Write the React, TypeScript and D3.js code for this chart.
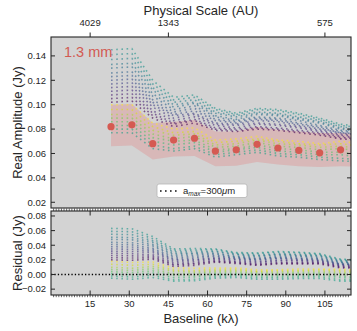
import React from 'react';
import * as d3 from 'd3';

// observed binned visibilities (kλ, Jy)
const baselines = [23, 31, 39, 47, 55, 63, 71, 79, 87, 95, 103, 111, 119];
const amplitude = [0.082, 0.0835, 0.068, 0.071, 0.0725, 0.062, 0.063, 0.0675, 0.0645, 0.0625, 0.0605, 0.063, 0.062];
const ampError = [0.002, 0.002, 0.002, 0.002, 0.002, 0.002, 0.002, 0.002, 0.002, 0.002, 0.002, 0.002, 0.002];
const bandHigh = [0.1, 0.1005, 0.085, 0.086, 0.0875, 0.078, 0.078, 0.082, 0.0795, 0.078, 0.0767, 0.0767, 0.076];
const bandLow = [0.066, 0.0666, 0.055, 0.0576, 0.058, 0.0495, 0.05, 0.053, 0.051, 0.0495, 0.049, 0.0495, 0.049];

// model curves, a_max = 300 um (upper family: purple -> teal, lower family: green -> yellow)
const modelCurves = [
  [0.102, 0.103, 0.089, 0.082, 0.085, 0.079, 0.078, 0.080, 0.079, 0.077, 0.075, 0.072, 0.071],
  [0.105, 0.106, 0.091, 0.084, 0.087, 0.080, 0.079, 0.081, 0.080, 0.078, 0.076, 0.073, 0.072],
  [0.108, 0.109, 0.093, 0.085, 0.088, 0.081, 0.080, 0.082, 0.081, 0.079, 0.077, 0.074, 0.073],
  [0.111, 0.112, 0.095, 0.087, 0.090, 0.083, 0.081, 0.084, 0.083, 0.081, 0.078, 0.075, 0.074],
  [0.114, 0.115, 0.098, 0.089, 0.092, 0.084, 0.083, 0.085, 0.084, 0.082, 0.079, 0.076, 0.075],
  [0.117, 0.118, 0.100, 0.091, 0.093, 0.085, 0.084, 0.087, 0.086, 0.083, 0.080, 0.077, 0.075],
  [0.120, 0.121, 0.102, 0.092, 0.095, 0.087, 0.085, 0.088, 0.087, 0.084, 0.081, 0.077, 0.076],
  [0.123, 0.124, 0.104, 0.094, 0.097, 0.088, 0.086, 0.089, 0.088, 0.085, 0.082, 0.078, 0.077],
  [0.126, 0.127, 0.107, 0.096, 0.099, 0.090, 0.087, 0.090, 0.089, 0.087, 0.083, 0.079, 0.078],
  [0.130, 0.131, 0.109, 0.098, 0.101, 0.091, 0.088, 0.092, 0.091, 0.088, 0.085, 0.080, 0.078],
  [0.133, 0.134, 0.112, 0.100, 0.102, 0.093, 0.090, 0.093, 0.092, 0.089, 0.086, 0.081, 0.079],
  [0.137, 0.138, 0.114, 0.102, 0.104, 0.094, 0.091, 0.094, 0.093, 0.090, 0.087, 0.082, 0.080],
  [0.141, 0.142, 0.117, 0.104, 0.106, 0.096, 0.092, 0.096, 0.095, 0.092, 0.088, 0.083, 0.081],
  [0.145, 0.146, 0.120, 0.106, 0.108, 0.097, 0.093, 0.097, 0.096, 0.093, 0.089, 0.084, 0.082],
  [0.077, 0.077, 0.064, 0.062, 0.064, 0.057, 0.059, 0.061, 0.058, 0.057, 0.055, 0.054, 0.053],
  [0.080, 0.080, 0.067, 0.064, 0.066, 0.059, 0.061, 0.063, 0.060, 0.059, 0.057, 0.056, 0.055],
  [0.083, 0.083, 0.070, 0.067, 0.069, 0.061, 0.063, 0.065, 0.062, 0.061, 0.059, 0.059, 0.057],
  [0.086, 0.086, 0.073, 0.070, 0.071, 0.063, 0.064, 0.067, 0.064, 0.063, 0.061, 0.061, 0.059],
  [0.089, 0.089, 0.076, 0.072, 0.074, 0.065, 0.066, 0.069, 0.066, 0.065, 0.063, 0.064, 0.062],
  [0.092, 0.092, 0.079, 0.075, 0.076, 0.067, 0.068, 0.071, 0.068, 0.067, 0.065, 0.066, 0.064],
  [0.096, 0.096, 0.082, 0.077, 0.078, 0.069, 0.070, 0.072, 0.070, 0.068, 0.067, 0.068, 0.066],
  [0.100, 0.100, 0.085, 0.080, 0.081, 0.071, 0.072, 0.074, 0.071, 0.070, 0.068, 0.070, 0.068],
];
const modelShade = [0.0, 0.04, 0.08, 0.12, 0.16, 0.2, 0.24, 0.28, 0.32, 0.36, 0.4, 0.44, 0.48, 0.52,
  0.56, 0.62, 0.68, 0.74, 0.8, 0.87, 0.94, 1.0];

const xTicks = [15, 30, 45, 60, 75, 90, 105];
const auTicks = [15, 45, 105];
const auLabels = ['4029', '1343', '575'];
const ampTicks = [0.02, 0.04, 0.06, 0.08, 0.1, 0.12, 0.14];
const resTicks = [-0.02, 0, 0.02, 0.04, 0.06, 0.08];

const W = 357;
const H = 331;
const left = 51;
const right = 351;
const top1 = 37;
const bot1 = 208;
const top2 = 211;
const bot2 = 295;
const font = '"Liberation Sans", Arial, sans-serif';
const ink = '#262626';
const bg = '#d3d3d3';

const App = () => {
  const x = d3.scaleLinear().domain([0, 115]).range([left, right]);
  const yA = d3.scaleLinear().domain([0.0153, 0.1555]).range([bot1, top1]);
  const yR = d3.scaleLinear().domain([-0.028, 0.0868]).range([bot2, top2]);
  const fmt = d3.format('.2f');
  const fmtR = (v: number) => fmt(v).replace('-', '\u2212');

  const band = d3.area<number>()
    .x((d, i) => x(baselines[i]))
    .y0((d, i) => yA(bandLow[i]))
    .y1((d) => yA(d));
  const lineA = d3.line<number>().x((d, i) => x(baselines[i])).y((d) => yA(d));
  const lineR = d3.line<number>().x((d, i) => x(baselines[i])).y((d, i) => yR(d - amplitude[i]));

  const minor = d3.range(1, 115);

  return (
    <svg width={W} height={H} style={{ position: 'absolute', left: 0, top: 0, background: '#fff' }} fontFamily={font}>
      <defs>
        <clipPath id="c1"><rect x={left} y={top1} width={right - left} height={bot1 - top1} /></clipPath>
        <clipPath id="c2"><rect x={left} y={top2} width={right - left} height={bot2 - top2} /></clipPath>
      </defs>

      {/* upper panel */}
      <rect x={left} y={top1} width={right - left} height={bot1 - top1} fill={bg} />
      <g clipPath="url(#c1)">
        <path d={band(bandHigh) || ''} fill="rgba(222,150,150,0.45)" />
        {modelCurves.map((m, k) => (
          <path key={k} d={lineA(m) || ''} fill="none" stroke={d3.interpolateViridis(modelShade[k])}
            strokeOpacity={0.62} strokeWidth={1.6} strokeDasharray="1.6 3.6" />
        ))}
        {amplitude.map((v, i) => (
          <g key={i}>
            <line x1={x(baselines[i])} x2={x(baselines[i])} y1={yA(v - ampError[i])} y2={yA(v + ampError[i])}
              stroke="#d55a52" strokeWidth={1.2} />
            <circle cx={x(baselines[i])} cy={yA(v)} r={3.6} fill="#d55a52" />
          </g>
        ))}
      </g>
      <text x={64} y={57} fontSize={14.5} fill="#d25a52">1.3 mm</text>

      {/* legend */}
      <rect x={157} y={184} width={90} height={13.5} rx={2} fill="#fff" stroke="#b5b5b5" strokeWidth={0.8} />
      <line x1={160} x2={180} y1={191} y2={191} stroke="#111" strokeWidth={1.6} strokeDasharray="1.6 3.4" />
      <text x={183} y={194} fontSize={9.5} fill={ink}>
        a<tspan fontSize={6.5} fontStyle="italic" dy={1.8}>max</tspan>
        <tspan dy={-1.8}>=300</tspan><tspan fontStyle="italic">μ</tspan>m
      </text>

      {/* lower panel */}
      <rect x={left} y={top2} width={right - left} height={bot2 - top2} fill={bg} />
      <g clipPath="url(#c2)">
        {modelCurves.map((m, k) => (
          <path key={k} d={lineR(m) || ''} fill="none" stroke={d3.interpolateViridis(modelShade[k])}
            strokeOpacity={0.62} strokeWidth={1.6} strokeDasharray="1.6 3.6" />
        ))}
        <line x1={left} x2={right} y1={yR(0)} y2={yR(0)} stroke="#000" strokeWidth={1.3} strokeDasharray="1.3 2.1" />
      </g>

      {/* ticks: upper */}
      {ampTicks.map((t) => (
        <g key={t}>
          <line x1={left} x2={left + 4} y1={yA(t)} y2={yA(t)} stroke={ink} />
          <line x1={right - 4} x2={right} y1={yA(t)} y2={yA(t)} stroke={ink} />
          <text x={left - 5} y={yA(t) + 3.3} fontSize={9.5} textAnchor="end" fill={ink}>{fmt(t)}</text>
        </g>
      ))}
      {auTicks.map((t, i) => (
        <g key={t}>
          <line x1={x(t)} x2={x(t)} y1={top1} y2={top1 - 4.5} stroke={ink} />
          <text x={x(t)} y={26} fontSize={9.5} textAnchor="middle" fill={ink}>{auLabels[i]}</text>
        </g>
      ))}

      {/* ticks: lower */}
      {resTicks.map((t) => (
        <g key={t}>
          <line x1={left} x2={left + 4} y1={yR(t)} y2={yR(t)} stroke={ink} />
          <line x1={right - 4} x2={right} y1={yR(t)} y2={yR(t)} stroke={ink} />
          <text x={left - 5} y={yR(t) + 3.3} fontSize={9.5} textAnchor="end" fill={ink}>{fmtR(t)}</text>
        </g>
      ))}
      {minor.map((t) => (
        <g key={t}>
          <line x1={x(t)} x2={x(t)} y1={bot2} y2={bot2 + 2.2} stroke={ink} strokeWidth={0.7} />
          <line x1={x(t)} x2={x(t)} y1={top2} y2={top2 - 2.5} stroke={ink} strokeWidth={0.7} />
        </g>
      ))}
      {xTicks.map((t) => (
        <g key={t}>
          <line x1={x(t)} x2={x(t)} y1={bot2} y2={bot2 - 4.5} stroke={ink} />
          <line x1={x(t)} x2={x(t)} y1={top2} y2={top2 + 4.5} stroke={ink} />
          <text x={x(t)} y={307} fontSize={9.5} textAnchor="middle" fill={ink}>{t}</text>
        </g>
      ))}

      {/* frames */}
      <rect x={left} y={top1} width={right - left} height={bot1 - top1} fill="none" stroke={ink} strokeWidth={1.1} />
      <rect x={left} y={top2} width={right - left} height={bot2 - top2} fill="none" stroke={ink} strokeWidth={1.1} />

      {/* titles */}
      <text x={201} y={15} fontSize={13} textAnchor="middle" fill={ink}>Physical Scale (AU)</text>
      <text x={201} y={323} fontSize={13} textAnchor="middle" fill={ink}>Baseline (kλ)</text>
      <text transform={`translate(22,${(top1 + bot1) / 2}) rotate(-90)`} fontSize={13} textAnchor="middle" fill={ink}>
        Real Amplitude (Jy)
      </text>
      <text transform={`translate(22,${(top2 + bot2) / 2}) rotate(-90)`} fontSize={13} textAnchor="middle" fill={ink}>
        Residual (Jy)
      </text>
    </svg>
  );
};

export default App;
